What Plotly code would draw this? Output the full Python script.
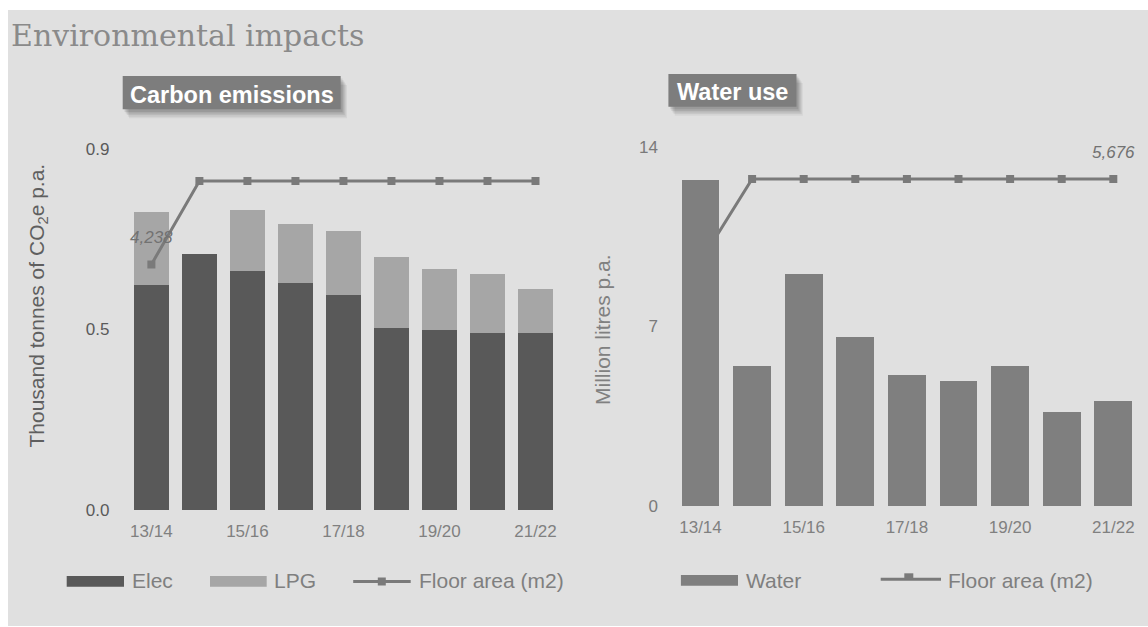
import plotly.graph_objects as go

# ---------------- data ----------------
years = ["13/14", "14/15", "15/16", "16/17", "17/18", "18/19", "19/20", "20/21", "21/22"]
elec = [0.561, 0.638, 0.597, 0.565, 0.535, 0.454, 0.450, 0.441, 0.441]
lpg = [0.183, 0.0, 0.151, 0.147, 0.160, 0.178, 0.151, 0.147, 0.111]
water = [12.70, 5.47, 9.03, 6.60, 5.12, 4.86, 5.47, 3.66, 4.08]
floor_area = [4238, 5676, 5676, 5676, 5676, 5676, 5676, 5676, 5676]
tick_years = years[::2]

W, H = 1148, 627
def X(px):
    return px / W
def Y(py):
    return 1 - py / H

LINE_C = "#7a7a7a"
fig = go.Figure()

fig.add_trace(go.Bar(x=years, y=elec, name="Elec", marker=dict(color="#595959", line=dict(width=0)),
                     xaxis="x", yaxis="y"))
fig.add_trace(go.Bar(x=years, y=lpg, name="LPG", marker=dict(color="#a6a6a6", line=dict(width=0)),
                     xaxis="x", yaxis="y"))
fig.add_trace(go.Scatter(x=years, y=floor_area, name="Floor area (m2)", mode="lines+markers",
                         line=dict(color=LINE_C, width=3),
                         marker=dict(symbol="square", size=8, color=LINE_C),
                         xaxis="x", yaxis="y2"))
fig.add_trace(go.Scatter(x=years, y=floor_area, name="Floor area (m2)", mode="lines+markers",
                         line=dict(color=LINE_C, width=3),
                         marker=dict(symbol="square", size=8, color=LINE_C),
                         xaxis="x2", yaxis="y3"))
fig.add_trace(go.Bar(x=years, y=water, name="Water", marker=dict(color="#7f7f7f", line=dict(width=0)),
                     xaxis="x2", yaxis="y4"))

tickfont_x = dict(family="Liberation Sans, Arial", size=17, color="#808080")

fig.update_layout(
    template="none",
    width=W, height=H,
    autosize=False,
    margin=dict(l=0, r=0, t=0, b=0, pad=0),
    paper_bgcolor="white",
    plot_bgcolor="rgba(0,0,0,0)",
    showlegend=False,
    barmode="stack",
    bargap=0.27,
    xaxis=dict(domain=[X(124.5), X(562.4)], anchor="y", type="category", automargin=False,
               tickmode="array", tickvals=tick_years, ticks="", showline=False,
               showgrid=False, zeroline=False, tickfont=tickfont_x, ticklabelstandoff=9),
    yaxis=dict(domain=[Y(510), Y(149)], anchor="x", range=[0, 0.9], tick0=0, dtick=0.45,
               automargin=False,
               tickformat=".1f", showgrid=False, zeroline=False, showline=False, ticks="",
               tickfont=dict(family="Liberation Sans, Arial", size=17, color="#5a5a5a"),
               ticklabelstandoff=14),
    yaxis2=dict(overlaying="y", range=[0, 6230], visible=False, anchor="x", automargin=False),
    xaxis2=dict(domain=[X(672), X(1141.8)], anchor="y3", type="category", automargin=False,
                tickmode="array", tickvals=tick_years, ticks="", showline=False,
                showgrid=False, zeroline=False, tickfont=tickfont_x, ticklabelstandoff=9),
    yaxis3=dict(domain=[Y(506), Y(147)], anchor="x2", range=[0, 6230], visible=False,
                automargin=False),
    yaxis4=dict(overlaying="y3", anchor="x2", side="left", range=[0, 14], tick0=0, dtick=7,
                automargin=False,
                showgrid=False, zeroline=False, showline=False, ticks="",
                tickfont=dict(family="Liberation Sans, Arial", size=17, color="#7a7a7a"),
                ticklabelstandoff=13),
)

shapes = []
shapes.append(dict(type="rect", xref="paper", yref="paper", x0=X(8), x1=1.0, y0=Y(626), y1=Y(10),
                   fillcolor="#e0e0e0", line=dict(width=0), layer="below"))

def box(x0, y0, x1, y1):
    for i, op in enumerate([0.05, 0.06, 0.07, 0.08, 0.09]):
        off = 9 - i * 1.6
        shapes.append(dict(type="rect", xref="paper", yref="paper",
                           x0=X(x0 + off * 0.7), x1=X(x1 + off * 0.7),
                           y0=Y(y1 + off), y1=Y(y0 + off),
                           fillcolor="rgba(0,0,0,%.2f)" % op, line=dict(width=0)))
    shapes.append(dict(type="rect", xref="paper", yref="paper", x0=X(x0), x1=X(x1),
                       y0=Y(y1), y1=Y(y0), fillcolor="#7d7d7d", line=dict(width=0)))

box(122.7, 76, 340.7, 109.3)
box(668.4, 74, 796.5, 106.7)

def swatch(x0, x1, y0, y1, color):
    shapes.append(dict(type="rect", xref="paper", yref="paper", x0=X(x0), x1=X(x1),
                       y0=Y(y1), y1=Y(y0), fillcolor=color, line=dict(width=0)))

def legline(x0, x1, y, mx0, mx1, my0, my1):
    shapes.append(dict(type="line", xref="paper", yref="paper", x0=X(x0), x1=X(x1),
                       y0=Y(y), y1=Y(y), line=dict(color=LINE_C, width=3)))
    shapes.append(dict(type="rect", xref="paper", yref="paper", x0=X(mx0), x1=X(mx1),
                       y0=Y(my1), y1=Y(my0), fillcolor=LINE_C, line=dict(width=0)))

swatch(66.7, 124, 576, 586.7, "#595959")
swatch(210, 266.7, 576, 586.7, "#a6a6a6")
legline(353.2, 410.7, 581.5, 377.8, 385.8, 577.5, 585.5)
swatch(680.9, 738, 575, 585.7, "#7f7f7f")
legline(880.7, 941, 579.3, 904.3, 913.3, 573.3, 579.3)

fig.update_layout(shapes=shapes)

ann = []
def text(x, y, s, size, color, family="Liberation Sans, Arial", xanchor="left", angle=0):
    ann.append(dict(x=X(x), y=Y(y), xref="paper", yref="paper", text=s, showarrow=False,
                    xanchor=xanchor, yanchor="middle", textangle=angle,
                    font=dict(family=family, size=size, color=color)))

text(9, 35, "Environmental impacts", 30, "#8a8a8a", family="DejaVu Serif")
text(231.7, 95, "<b>Carbon emissions</b>", 23.5, "white", xanchor="center")
text(732.5, 91.7, "<b>Water use</b>", 23.5, "white", xanchor="center")
text(37.5, 306, "Thousand tonnes of CO<sub>2</sub>e p.a.", 21, "#5f5f5f", xanchor="center", angle=-90)
text(602, 330, "Million litres p.a.", 21, "#808080", xanchor="center", angle=-90)

leg_c = "#7f7f7f"
text(129.5, 580, "Elec", 21, leg_c)
text(272, 580, "LPG", 21, leg_c)
text(417, 580, "Floor area (m2)", 21, leg_c)
text(743.5, 580, "Water", 21, leg_c)
text(946, 580, "Floor area (m2)", 21, leg_c)

ann.append(dict(x=years[0], y=floor_area[0], xref="x", yref="y2", text=f"{floor_area[0]:,}",
                showarrow=False, yshift=27, xanchor="center", yanchor="middle",
                font=dict(family="Liberation Sans, Arial", size=17, color="#727272", style="italic")))
ann.append(dict(x=years[-1], y=floor_area[-1], xref="x2", yref="y3", text=f"{floor_area[-1]:,}",
                showarrow=False, yshift=26, xanchor="center", yanchor="middle",
                font=dict(family="Liberation Sans, Arial", size=17, color="#727272", style="italic")))

fig.update_layout(annotations=ann)
fig.write_html("out.html")
